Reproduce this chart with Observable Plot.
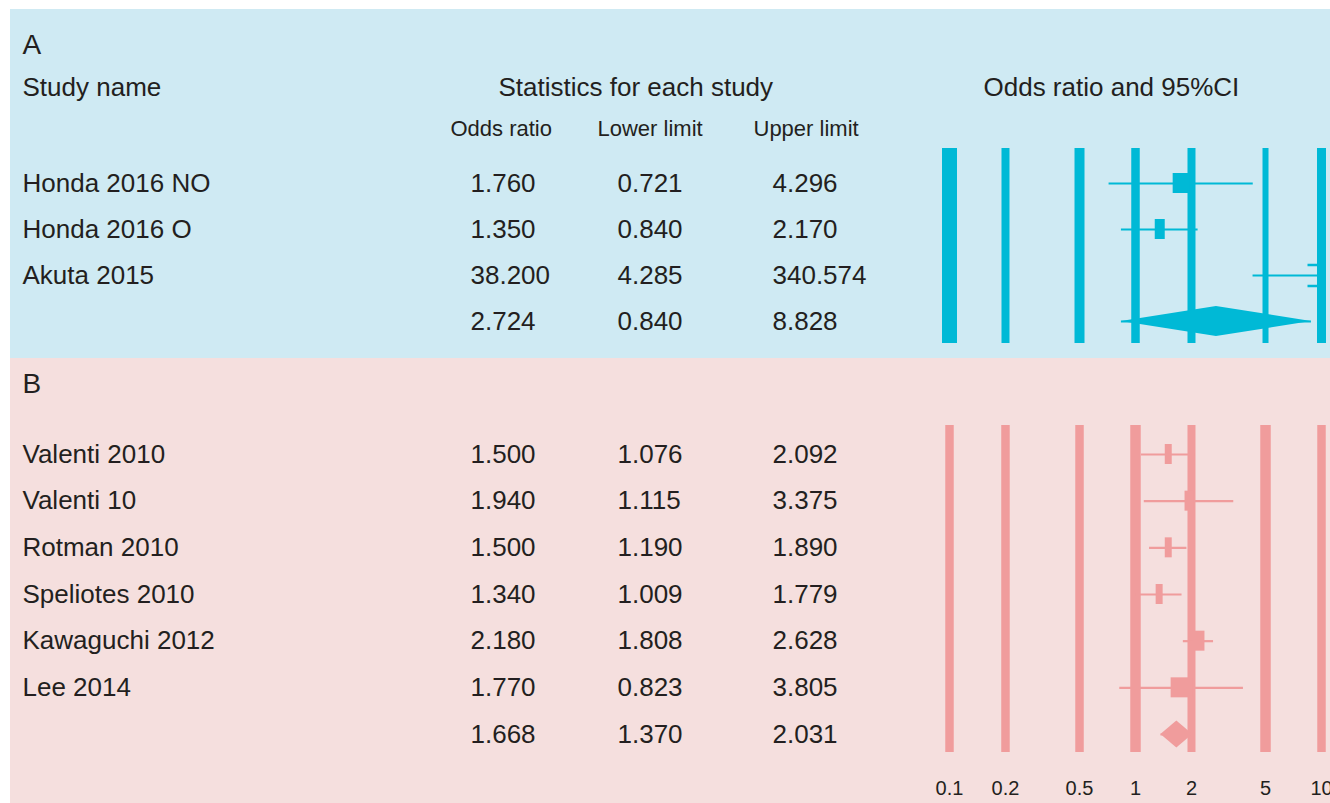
<!DOCTYPE html>
<html><head><meta charset="utf-8">
<script src="https://cdn.jsdelivr.net/npm/d3@7"></script>
<script src="https://cdn.jsdelivr.net/npm/@observablehq/plot@0.6"></script>
<style>
html,body{margin:0;padding:0;background:#fff;}
#wrap{position:relative;width:1330px;height:803px;overflow:hidden;font-family:"Liberation Sans",Arial,Helvetica,sans-serif;}
.panel{position:absolute;left:10px;width:1320px;overflow:hidden;}
#panelA{top:9px;height:349px;background:#cfeaf3;}
#panelB{top:358px;height:445px;background:#f5dfde;}
</style></head><body>
<div id="wrap"><div id="panelA" class="panel"></div><div id="panelB" class="panel"></div></div>
<script>
// ---- Data ----
const studiesA = ["Honda 2016 NO", "Honda 2016 O", "Akuta 2015", ""];
const oddsA    = [1.760, 1.350, 38.200, 2.724];
const lowerA   = [0.721, 0.840, 4.285, 0.840];
const upperA   = [4.296, 2.170, 340.574, 8.828];
const weightA  = [1.7, 1.0, 1.0, null];

const studiesB = ["Valenti 2010", "Valenti 10", "Rotman 2010", "Speliotes 2010", "Kawaguchi 2012", "Lee 2014", ""];
const oddsB    = [1.500, 1.940, 1.500, 1.340, 2.180, 1.770, 1.668];
const lowerB   = [1.076, 1.115, 1.190, 1.009, 1.808, 0.823, 1.370];
const upperB   = [2.092, 3.375, 1.890, 1.779, 2.628, 3.805, 2.031];
const weightB  = [0.7, 0.9, 0.7, 0.7, 1.2, 2.2, null];

const tickValues = [0.1, 0.2, 0.5, 1, 2, 5, 10];
const tickLabels = ["0.1", "0.2", "0.5", "1", "2", "5", "10"];

// ---- Helpers ----
const XMIN = 0.1, XMAX = 10;
const ink = "#231f20";
const FONT = '"Liberation Sans", Arial, Helvetica, sans-serif';
const clip = v => Math.max(XMIN, Math.min(XMAX, v));

function makeRows(names, or, lo, hi, w) {
  return names.map((name, i) => ({
    i, name, or: or[i], lower: lo[i], upper: hi[i], weight: w[i],
    summary: i === names.length - 1
  }));
}

function label(text, x, y, fontSize, marginTop) {
  return Plot.text([text], {
    text: d => d, frameAnchor: "top-left", dx: x, dy: y - marginTop,
    lineAnchor: "middle",
    fontSize, textAnchor: "start", fill: ink, fontFamily: FONT
  });
}

const arrowSym = {
  draw(ctx) {
    ctx.moveTo(-14, -10.5); ctx.lineTo(-2, -10.5);
    ctx.moveTo(-14, 10.5); ctx.lineTo(-2, 10.5);
  }
};

function forest(data, cfg) {
  const n = data.length;
  const rowStep = (cfg.yRange[1] - cfg.yRange[0]) / (n - 1);
  const boxHalf = 10 / rowStep;
  const diaHalf = cfg.diamondHalfPx / rowStep;
  const studies = data.filter(d => !d.summary);
  const boxes = studies.filter(d => d.or >= XMIN && d.or <= XMAX);
  const arrows = data.filter(d => d.upper > XMAX);
  const summary = data.filter(d => d.summary);
  const diamond = summary.flatMap(d => [
    {x: clip(d.lower), y1: d.i, y2: d.i},
    {x: clip(d.or), y1: d.i - diaHalf, y2: d.i + diaHalf},
    {x: clip(d.upper), y1: d.i, y2: d.i}
  ]);
  const c = cfg.color;
  const marks = [
    Plot.ruleX(tickValues, {x: d => d, stroke: c, strokeWidth: (d, i) => cfg.barWidths[i]}),
    Plot.ruleY(data, {y: "i", x1: d => clip(d.lower), x2: d => clip(d.upper), stroke: c, strokeWidth: 2.2}),
    Plot.ruleX(boxes, {x: "or", y1: d => d.i - boxHalf, y2: d => d.i + boxHalf, stroke: c, strokeWidth: d => d.weight * 10}),
    Plot.areaY(diamond, {x: "x", y1: "y1", y2: "y2", fill: c, curve: "linear"}),
    Plot.dot(arrows, {x: () => XMAX, y: "i", symbol: arrowSym, stroke: c, strokeWidth: 2.4, fill: "none"}),
    // table columns
    Plot.text(data, {y: "i", text: "name", frameAnchor: "left", dx: 12, textAnchor: "start", fontSize: 26, fill: ink, fontFamily: FONT}),
    Plot.text(data, {y: "i", text: d => d.or.toFixed(3), frameAnchor: "left", dx: 460, textAnchor: "start", fontSize: 26, fill: ink, fontFamily: FONT}),
    Plot.text(data, {y: "i", text: d => d.lower.toFixed(3), frameAnchor: "left", dx: 607, textAnchor: "start", fontSize: 26, fill: ink, fontFamily: FONT}),
    Plot.text(data, {y: "i", text: d => d.upper.toFixed(3), frameAnchor: "left", dx: 762, textAnchor: "start", fontSize: 26, fill: ink, fontFamily: FONT}),
    ...cfg.extraMarks
  ];
  return Plot.plot({
    width: 1320, height: cfg.height,
    marginLeft: 0, marginRight: 0, marginTop: cfg.marginTop, marginBottom: cfg.marginBottom,
    style: {background: "transparent", fontFamily: FONT, overflow: "visible"},
    x: {type: "log", domain: [XMIN, XMAX], range: [939, 1311], ...(cfg.showAxis ? {} : {axis: null})},
    y: {type: "linear", domain: [0, n - 1], range: cfg.yRange, axis: null},
    marks
  });
}

// ---- Panel A ----
const rowsA = makeRows(studiesA, oddsA, lowerA, upperA, weightA);
const mtA = 139;
const chartA = forest(rowsA, {
  height: 349, marginTop: mtA, marginBottom: 15, yRange: [174, 312],
  color: "#00b9d6", diamondHalfPx: 15, barWidths: [15, 8, 10, 8.5, 8, 6, 9],
  showAxis: false,
  extraMarks: [
    label("A", 12, 36, 28, mtA),
    label("Study name", 12, 78, 26, mtA),
    label("Statistics for each study", 488, 78, 26, mtA),
    label("Odds ratio and 95%CI", 973, 78, 26, mtA),
    label("Odds ratio", 440, 119, 22, mtA),
    label("Lower limit", 587, 119, 22, mtA),
    label("Upper limit", 743, 119, 22, mtA)
  ]
});
document.getElementById("panelA").appendChild(chartA);

// ---- Panel B ----
const rowsB = makeRows(studiesB, oddsB, lowerB, upperB, weightB);
const mtB = 67;
const chartB = forest(rowsB, {
  height: 445, marginTop: mtB, marginBottom: 51, yRange: [96, 376],
  color: "#f09c9c", diamondHalfPx: 13.5, barWidths: [8.5, 8.5, 8.5, 10.5, 8, 10.5, 8.5],
  showAxis: true,
  extraMarks: [
    label("B", 12, 26, 28, mtB),
    Plot.axisX({ticks: tickValues, tickFormat: d => tickLabels[tickValues.indexOf(d)], tickSize: 0, tickPadding: 28, fontSize: 20, fill: ink, label: null})
  ]
});
document.getElementById("panelB").appendChild(chartB);
</script>
</body></html>
